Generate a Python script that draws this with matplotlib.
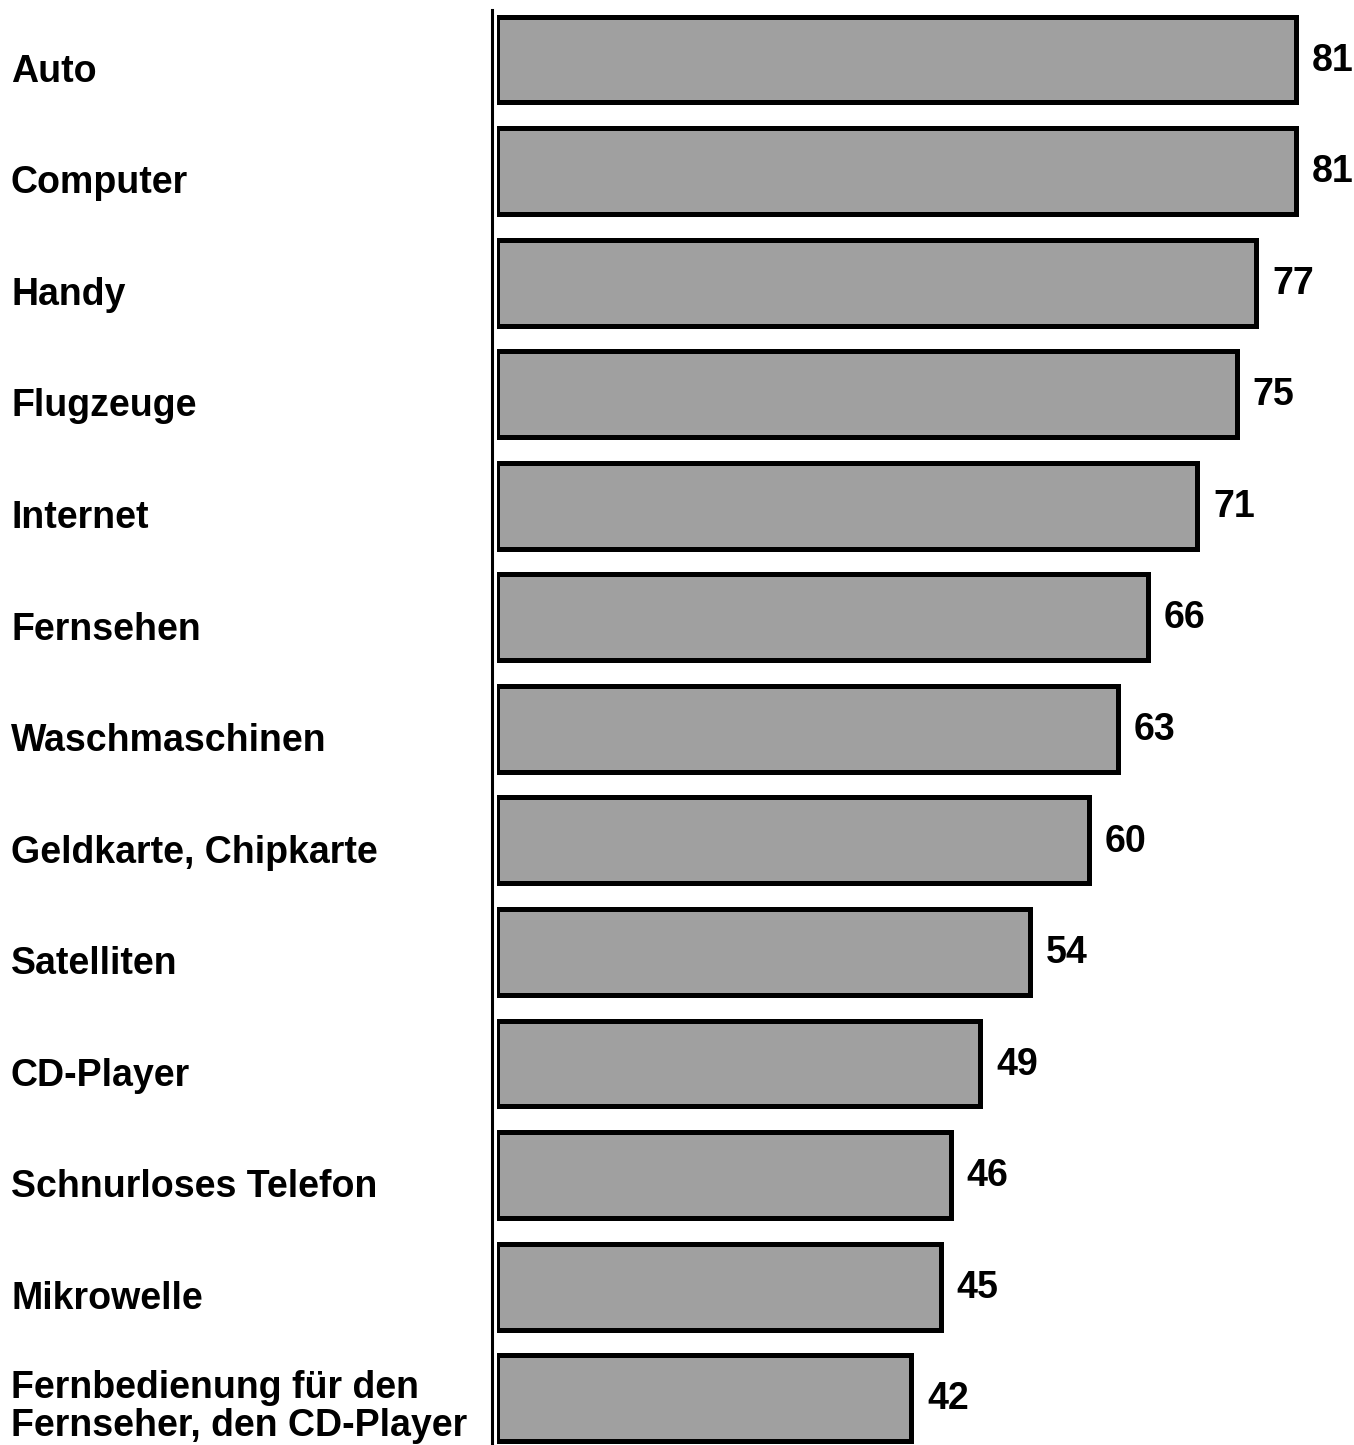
import matplotlib
matplotlib.use("Agg")
import matplotlib.pyplot as plt

kategorien = ["Auto", "Computer", "Handy", "Flugzeuge", "Internet", "Fernsehen",
              "Waschmaschinen", "Geldkarte, Chipkarte", "Satelliten", "CD-Player",
              "Schnurloses Telefon", "Mikrowelle",
              "Fernbedienung für den\nFernseher, den CD-Player"]
werte = [81, 81, 77, 75, 71, 66, 63, 60, 54, 49, 46, 45, 42]

plt.rcParams['font.family'] = ['Liberation Sans', 'DejaVu Sans']

W, H = 1354, 1445
fig = plt.figure(figsize=(W / 100, H / 100), dpi=100)
ax = fig.add_axes([497 / W, 0, 1 - 497 / W, 1435 / H])

pos = list(range(len(werte)))
ax.barh(pos, werte, height=0.77, color="#a0a0a0", edgecolor="black", linewidth=3.6)

ax.set_xlim(0, 86.9)
ax.set_ylim(12.42, -0.444)

for sp in ["top", "right", "bottom"]:
    ax.spines[sp].set_visible(False)
ax.spines["left"].set_linewidth(2.2)
ax.spines["left"].set_position(("outward", 3.6))
ax.set_xticks([])
ax.set_yticks([])

for i, (k, v) in enumerate(zip(kategorien, werte)):
    ax.text(v + 1.6, i + 0.1, str(v), va="baseline", ha="left",
            fontsize=27, fontweight="bold")
    if "\n" in k:
        y, va = i + 0.08, "center"
    else:
        y, va = i + 0.2, "baseline"
    ax.annotate(k, xy=(0, y), xycoords=("figure fraction", "data"),
                xytext=(11 * 0.72, 0), textcoords="offset points",
                va=va, ha="left", fontsize=27, fontweight="bold",
                linespacing=1.06, annotation_clip=False)

fig.savefig("out.png", dpi=100)
